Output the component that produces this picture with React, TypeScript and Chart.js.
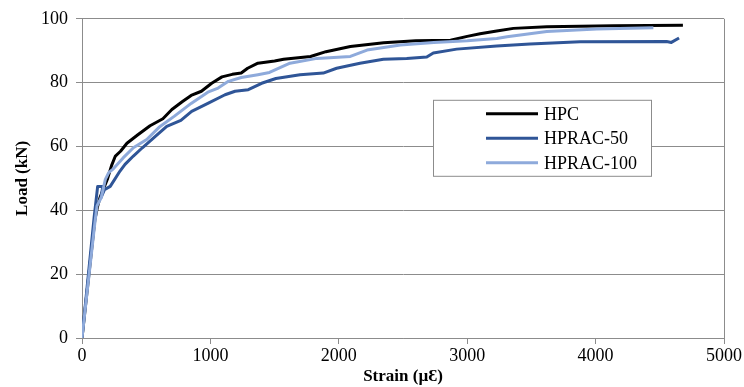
import React, { useEffect, useRef } from "react";
import { Chart, registerables } from "chart.js";

Chart.register(...registerables);

// Load–strain readings for each mix
const hpcStrain = [0, 100, 120, 140, 170, 200, 230, 260, 300, 350, 430, 530, 630, 700, 780, 850, 930, 1010, 1090, 1170, 1240, 1290, 1370, 1500, 1570, 1780, 1900, 2090, 2350, 2600, 2870, 3000, 3100, 3230, 3360, 3620, 4140, 4680];
const hpcLoad = [0, 37, 41, 44, 47, 50, 54, 57, 58.5, 61, 63.5, 66.5, 68.7, 71.6, 74, 76, 77.3, 79.8, 81.8, 82.6, 83, 84.5, 86.1, 86.8, 87.3, 88.2, 89.7, 91.3, 92.5, 93.1, 93.3, 94.5, 95.3, 96.2, 97, 97.5, 97.8, 98];

const rac50Strain = [0, 95, 122, 162, 148, 175, 220, 296, 335, 400, 470, 580, 660, 770, 854, 984, 1114, 1192, 1295, 1399, 1510, 1698, 1879, 1983, 2165, 2347, 2529, 2685, 2736, 2918, 3230, 3489, 3879, 4553, 4590, 4650];
const rac50Load = [0, 38, 47.5, 47.5, 44, 46.5, 47.5, 52.3, 54.4, 57, 59.6, 63.5, 66.3, 68.2, 71, 73.6, 76.2, 77.3, 77.8, 79.8, 81.3, 82.5, 83, 84.5, 86.1, 87.3, 87.6, 88, 89.3, 90.5, 91.5, 92.1, 92.8, 92.9, 92.6, 94];

const rac100Strain = [0, 100, 117, 150, 182, 208, 244, 322, 400, 504, 600, 720, 850, 980, 1060, 1140, 1240, 1370, 1460, 1620, 1830, 2090, 2220, 2480, 2740, 3000, 3230, 3310, 3620, 4010, 4450];
const rac100Load = [0, 36, 41.4, 44, 49.7, 51.8, 53, 56.5, 59.6, 62.2, 66, 69.5, 73.5, 77, 78.3, 80.4, 81.6, 82.5, 83.2, 86.1, 87.6, 88.2, 90.2, 91.8, 92.6, 93.1, 93.8, 94.4, 96, 96.8, 97.2];

const seriesNames = ["HPC", "HPRAC-50", "HPRAC-100"];
const seriesColors = ["#000000", "#2F5597", "#8EAADB"];

const xTicks = [0, 1000, 2000, 3000, 4000, 5000];
const yTicks = [0, 20, 40, 60, 80, 100];

const SERIF = "'Liberation Serif', 'Times New Roman', serif";
const GRID = "#8C8C8C";

const toPoints = (xs: number[], ys: number[]) => xs.map((x, i) => ({ x, y: ys[i] }));

// Frame on the right edge plus a boxed legend inside the plot
const framePlugin = {
  id: "frameAndLegend",
  afterDraw(chart: any) {
    const { ctx, chartArea } = chart;
    ctx.save();
    ctx.strokeStyle = GRID;
    ctx.lineWidth = 1;
    ctx.beginPath();
    ctx.moveTo(chartArea.right + 0.5, chartArea.top);
    ctx.lineTo(chartArea.right + 0.5, chartArea.bottom);
    ctx.stroke();

    const bx = chartArea.left + 351;
    const by = chartArea.top + 81;
    const bw = 218;
    const bh = 76;
    ctx.fillStyle = "#ffffff";
    ctx.fillRect(bx, by, bw, bh);
    ctx.strokeStyle = GRID;
    ctx.strokeRect(bx + 0.5, by + 0.5, bw, bh);

    ctx.font = `18px ${SERIF}`;
    ctx.textBaseline = "middle";
    ctx.textAlign = "left";
    chart.data.datasets.forEach((ds: any, i: number) => {
      const cy = by + 14 + i * 24.5;
      ctx.strokeStyle = ds.borderColor;
      ctx.lineWidth = 3;
      ctx.beginPath();
      ctx.moveTo(bx + 53, cy);
      ctx.lineTo(bx + 105, cy);
      ctx.stroke();
      ctx.fillStyle = "#000000";
      ctx.fillText(ds.label, bx + 111, cy + 1);
    });
    ctx.restore();
  },
};

export default function App() {
  const canvasRef = useRef<HTMLCanvasElement | null>(null);

  useEffect(() => {
    const canvas = canvasRef.current;
    if (!canvas) return;
    const strains = [hpcStrain, rac50Strain, rac100Strain];
    const loads = [hpcLoad, rac50Load, rac100Load];
    const chart = new Chart(canvas, {
      type: "scatter",
      data: {
        datasets: seriesNames.map((name, i) => ({
          label: name,
          data: toPoints(strains[i], loads[i]),
          showLine: true,
          borderColor: seriesColors[i],
          backgroundColor: seriesColors[i],
          borderWidth: 3,
          pointRadius: 0,
          borderJoinStyle: "round" as const,
          tension: 0,
          order: 3 - i,
        })),
      },
      options: {
        animation: false,
        responsive: false,
        maintainAspectRatio: false,
        layout: { padding: { top: 17, right: 20, bottom: 0, left: 0 } },
        plugins: {
          legend: { display: false },
          tooltip: { enabled: false },
        },
        scales: {
          x: {
            type: "linear",
            min: 0,
            max: 5000,
            afterBuildTicks: (s: any) => {
              s.ticks = xTicks.map((v) => ({ value: v }));
            },
            afterFit: (s: any) => {
              s.height = 49;
            },
            ticks: {
              color: "#000",
              font: { family: SERIF, size: 18 },
              padding: 1,
              maxRotation: 0,
              callback: (v: any) => String(v),
            },
            grid: {
              drawOnChartArea: false,
              drawTicks: true,
              tickLength: 6,
              color: GRID,
            },
            border: { display: true, color: GRID },
            title: {
              display: true,
              text: "Strain (µƐ)",
              color: "#000",
              font: { family: SERIF, size: 17, weight: "bold" },
              padding: { top: 0, bottom: 0 },
            },
          },
          y: {
            type: "linear",
            min: 0,
            max: 100,
            afterBuildTicks: (s: any) => {
              s.ticks = yTicks.map((v) => ({ value: v }));
            },
            afterFit: (s: any) => {
              s.width = 82;
            },
            ticks: {
              color: "#000",
              font: { family: SERIF, size: 18 },
              padding: 8,
              callback: (v: any) => String(v),
            },
            grid: {
              color: GRID,
              drawTicks: true,
              tickLength: 6,
            },
            border: { display: true, color: GRID },
            title: {
              display: true,
              text: "Load (kN)",
              color: "#000",
              font: { family: SERIF, size: 17, weight: "bold" },
              padding: { top: 12, bottom: 0 },
            },
          },
        },
      },
      plugins: [framePlugin],
    });
    return () => chart.destroy();
  }, []);

  return (
    <div style={{ position: "fixed", left: 0, top: 0, width: 744, height: 387, background: "#fff" }}>
      <canvas ref={canvasRef} width={744} height={387} style={{ width: 744, height: 387 }} />
    </div>
  );
}
